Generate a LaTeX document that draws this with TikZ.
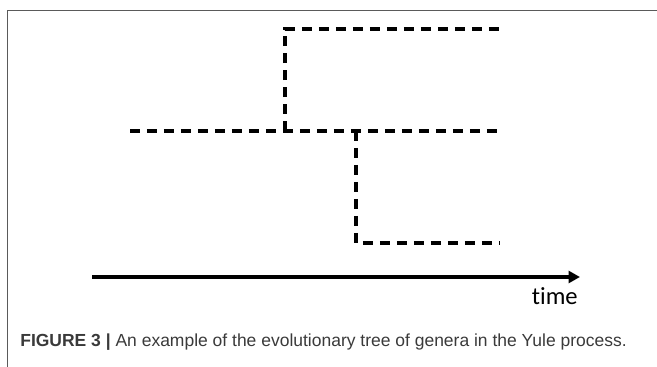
\documentclass[tikz,border=0pt]{standalone}
\usepackage{fontspec}
\setmainfont{Liberation Sans}
\newfontfamily\calib[Ligatures={NoCommon}]{Carlito}
\usetikzlibrary{arrows.meta}
\definecolor{framegray}{HTML}{5A5A5A}
\definecolor{captext}{HTML}{3A3A3A}

\begin{document}
\begin{tikzpicture}[
    x=0.02cm, y=-0.02cm,
    branch/.style={draw, line width=2pt, dash pattern=on 0.2cm off 0.14cm},
    timeaxis/.style={draw, line width=1.9pt, -{Triangle[length=0.23cm,width=0.24cm]}},
    frameline/.style={draw=framegray, line width=0.7pt}
]
\useasboundingbox (0,0) rectangle (657,367);

% frame of the figure panel
\coordinate (fa) at (7.5,367);
\coordinate (fb) at (7.5,10.5);
\coordinate (fc) at (657,10.5);
\path[frameline] (fa) -- (fb) -- (fc);

% tree of genera
\coordinate (root) at (130,131);
\coordinate (split1) at (285,131);
\coordinate (split2) at (356,131);
\coordinate (tipA) at (500,29);
\coordinate (tipB) at (503,131);
\coordinate (tipC) at (500,243);

\path[branch] (root) -- (tipB);
\path[branch] (split1) |- (tipA);
\path[branch] (split2) |- (tipC);

% time axis
\coordinate (tstart) at (92,277);
\coordinate (tend) at (580,277);
\path[timeaxis] (tstart) -- (tend);
\node[font=\calib\fontsize{14}{16}\selectfont, anchor=base east, inner sep=0pt] (timelbl) at (578,305) {time};

% caption
\node[anchor=base west, inner sep=0pt, text=captext, font=\fontsize{9.95}{11}\selectfont] (caption) at (20,347)
    {\textbf{FIGURE 3 |} An example of the evolutionary tree of genera in the Yule process.};
\end{tikzpicture}
\end{document}
